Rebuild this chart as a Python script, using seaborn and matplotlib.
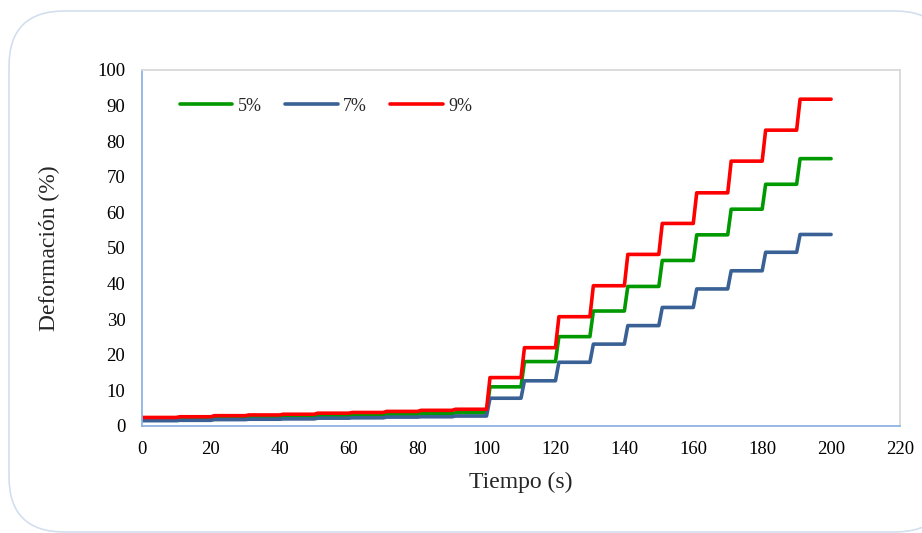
import numpy as np
import pandas as pd
import matplotlib
matplotlib.use("Agg")
import matplotlib.pyplot as plt
from matplotlib.patches import FancyBboxPatch
import seaborn as sns

# ---- data ----
step_starts = [0, 10, 20, 30, 40, 50, 60, 70, 80, 90, 100,
               110, 120, 130, 140, 150, 160, 170, 180, 190]
end_time = 200
ramp = 1  # seconds for the jump between levels

levels_5 = [1.9, 2.1, 2.3, 2.5, 2.7, 2.9, 3.1, 3.3, 3.5, 3.7,
            11.0, 18.1, 25.1, 32.3, 39.2, 46.5, 53.7, 60.9, 67.9, 75.1]
levels_7 = [1.5, 1.6, 1.8, 1.9, 2.0, 2.2, 2.3, 2.5, 2.6, 2.8,
            7.8, 12.7, 17.9, 23.0, 28.2, 33.3, 38.5, 43.6, 48.8, 53.8]
levels_9 = [2.4, 2.6, 2.9, 3.1, 3.3, 3.6, 3.8, 4.1, 4.4, 4.7,
            13.6, 22.0, 30.7, 39.4, 48.2, 56.9, 65.5, 74.4, 83.1, 91.8]

series_names = ["5%", "7%", "9%"]
series_colors = ["#009900", "#3A6195", "#FF0000"]
x_ticks = list(range(0, 221, 20))
y_ticks = list(range(0, 101, 10))


def build(levels):
    t, v = [], []
    for i, (s, lv) in enumerate(zip(step_starts, levels)):
        start = s if i == 0 else s + ramp
        stop = step_starts[i + 1] if i + 1 < len(step_starts) else end_time
        t += [start, stop]
        v += [lv, lv]
    return t, v


rows = []
for name, lv in zip(series_names, [levels_5, levels_7, levels_9]):
    t, v = build(lv)
    for ti, vi in zip(t, v):
        rows.append({"Tiempo": ti, "Deformacion": vi, "Serie": name})
df = pd.DataFrame(rows)

sns.set_theme(style="white")
plt.rcParams["font.family"] = ["Liberation Serif", "DejaVu Serif"]

fig = plt.figure(figsize=(9.22, 5.33), dpi=100)
# rounded chart border
border = FancyBboxPatch((9 / 922, 1 - 532 / 533), (950 - 9) / 922, (532 - 11) / 533,
                        boxstyle="round,pad=0,rounding_size=0.06",
                        transform=fig.transFigure, facecolor="white",
                        edgecolor="#D3DFEF", linewidth=1.2, zorder=-5,
                        mutation_aspect=922 / 533)
fig.patches.append(border)

ax = fig.add_axes([142 / 922, 1 - 426 / 533, (900 - 142) / 922, (426 - 70) / 533])
ax.set_facecolor("none")
ax.set_zorder(2)

sns.lineplot(data=df, x="Tiempo", y="Deformacion", hue="Serie",
             palette=dict(zip(series_names, series_colors)),
             hue_order=series_names, sort=False, estimator=None,
             linewidth=2.6, ax=ax, legend=True)

ax.set_xlim(0, 220)
ax.set_ylim(0, 100)
ax.set_xticks(x_ticks)
ax.set_yticks(y_ticks)
ax.tick_params(axis="both", length=0, labelsize=13.5, colors="black")
ax.tick_params(axis="x", pad=11)
ax.tick_params(axis="y", pad=12)
for sp in ["left", "bottom"]:
    ax.spines[sp].set_color("#8EB4E3")
    ax.spines[sp].set_linewidth(1.3)
for sp in ["top", "right"]:
    ax.spines[sp].set_color("#D9D9D9")
    ax.spines[sp].set_linewidth(1.3)

ax.set_xlabel("Tiempo (s)", fontsize=17, labelpad=10)
ax.set_ylabel("Deformación (%)", fontsize=17, labelpad=27)

leg = ax.legend(loc="upper left", bbox_to_anchor=(0.05, 0.922), ncol=3,
                frameon=False, fontsize=13, handlelength=2.9,
                columnspacing=1.3, handletextpad=0.3,
                borderpad=0, borderaxespad=0)
for h in leg.get_lines():
    h.set_linewidth(2.6)

fig.savefig("out.png", dpi=100)
